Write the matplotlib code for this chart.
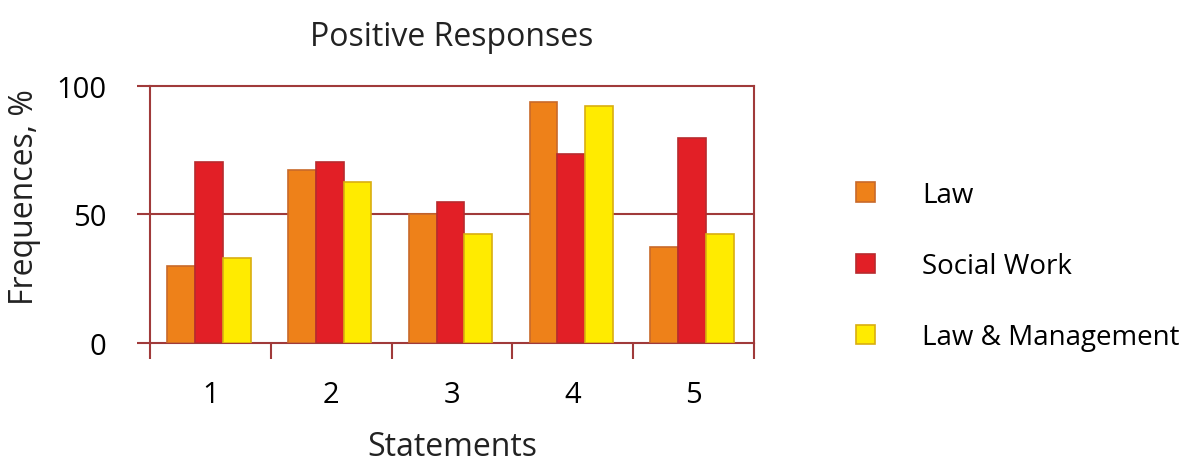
import numpy as np
import matplotlib.pyplot as plt
from matplotlib.ticker import FixedLocator

plt.rcParams['font.family'] = ['Open Sans', 'DejaVu Sans']

statements = ['1', '2', '3', '4', '5']
series = ['Law', 'Social Work', 'Law & Management']
law = [29.8, 67.4, 50.0, 93.5, 37.4]
social_work = [70.5, 70.5, 54.7, 73.5, 79.8]
law_mgmt = [32.9, 62.5, 42.2, 92.2, 42.2]

fills = ['#EE8119', '#E21F26', '#FFEB00']
edges = ['#C8692A', '#B82A2E', '#D9AE10']
frame = '#A03A3A'

fig = plt.figure(figsize=(11.92, 4.64), dpi=100)
ax = fig.add_axes([150 / 1192, 120 / 464, 604 / 1192, 257.3 / 464])

x = np.arange(len(statements)) + 1
w = 0.23
bars = []
for i, vals in enumerate([law, social_work, law_mgmt]):
    b = ax.bar(x + (i - 1) * w - 0.012, vals, w, color=fills[i],
               edgecolor=edges[i], linewidth=1.2, label=series[i], zorder=3)
    bars.append(b)

ax.set_xlim(0.5, 5.5)
ax.set_ylim(0, 100)
ax.set_yticks([0, 50, 100])
ax.axhline(50, color=frame, lw=1.5, zorder=1)

ax.set_xticks(x)
ax.set_xticklabels(statements)
ax.xaxis.set_minor_locator(FixedLocator(np.arange(0.5, 6, 1)))
ax.tick_params(axis='x', which='major', length=0, pad=27, labelsize=21)
ax.tick_params(axis='x', which='minor', length=11.5, width=1.5, color=frame,
               direction='out')
ax.tick_params(axis='y', length=9.5, width=1.5, color=frame, direction='out',
               pad=22, labelsize=21)

for s in ax.spines.values():
    s.set_color(frame)
    s.set_linewidth(1.5)

ax.set_title('Positive Responses', fontsize=23, color='#222222', pad=29)
ax.set_xlabel('Statements', fontsize=23, color='#222222', labelpad=15)
ax.set_ylabel('Frequences, %', fontsize=23, color='#222222')
ax.yaxis.set_label_coords(-0.18, 0.57)

ax.legend(handles=bars, loc='center left', bbox_to_anchor=(1.128, 0.30),
          frameon=False, fontsize=20, handlelength=0.68, handleheight=0.68,
          labelspacing=1.55, handletextpad=1.7)

fig.savefig('out.png', dpi=100)
